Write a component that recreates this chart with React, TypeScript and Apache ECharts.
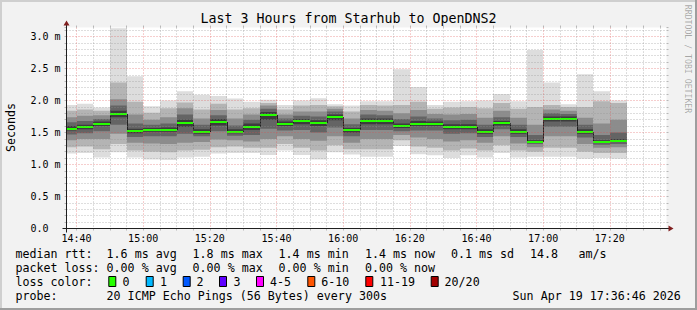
import React, { useEffect, useRef } from "react";
import * as echarts from "echarts";

// ---- data ----
const slotStart = ["14:35","14:40","14:45","14:50","14:55","15:00","15:05","15:10","15:15","15:20","15:25","15:30","15:35","15:40","15:45","15:50","15:55","16:00","16:05","16:10","16:15","16:20","16:25","16:30","16:35","16:40","16:45","16:50","16:55","17:00","17:05","17:10","17:15","17:20"];
const pingMin = [1.17,1.18,1.11,1.19,1.11,1.08,1.07,1.11,1.12,1.17,1.18,1.18,1.15,1.22,1.15,1.08,1.19,1.155,1.12,1.12,1.29,1.16,1.145,1.10,1.145,1.11,1.18,1.11,1.12,1.12,1.12,1.09,1.10,1.09];
const pingP3 = [1.27,1.28,1.24,1.32,1.22,1.20,1.19,1.22,1.23,1.27,1.28,1.26,1.26,1.32,1.26,1.22,1.30,1.24,1.24,1.24,1.38,1.28,1.26,1.22,1.25,1.22,1.30,1.22,1.20,1.26,1.26,1.20,1.18,1.18];
const pingP5 = [1.38,1.40,1.40,1.48,1.34,1.33,1.32,1.34,1.35,1.39,1.38,1.36,1.40,1.44,1.40,1.37,1.44,1.34,1.40,1.40,1.46,1.42,1.40,1.36,1.38,1.34,1.44,1.33,1.27,1.44,1.44,1.32,1.26,1.27];
const pingP7 = [1.47,1.49,1.52,1.62,1.43,1.44,1.44,1.48,1.44,1.52,1.45,1.46,1.56,1.53,1.54,1.50,1.58,1.44,1.54,1.54,1.52,1.53,1.53,1.48,1.49,1.43,1.55,1.43,1.32,1.59,1.59,1.42,1.31,1.32];
const pingP9 = [1.53,1.55,1.60,1.74,1.49,1.51,1.51,1.59,1.48,1.61,1.49,1.54,1.70,1.60,1.63,1.60,1.69,1.50,1.63,1.63,1.57,1.60,1.60,1.55,1.55,1.48,1.61,1.48,1.34,1.67,1.67,1.48,1.34,1.35];
const medianRtt = [1.56,1.58,1.64,1.79,1.52,1.54,1.54,1.65,1.51,1.665,1.51,1.59,1.77,1.635,1.675,1.645,1.74,1.535,1.68,1.68,1.60,1.635,1.635,1.59,1.59,1.51,1.645,1.51,1.355,1.71,1.71,1.51,1.35,1.37];
const pingP12 = [1.60,1.62,1.67,1.84,1.56,1.57,1.58,1.70,1.55,1.71,1.55,1.64,1.82,1.67,1.71,1.69,1.78,1.57,1.72,1.72,1.64,1.68,1.67,1.63,1.63,1.55,1.68,1.55,1.38,1.75,1.75,1.55,1.38,1.40];
const pingP14 = [1.66,1.68,1.71,1.92,1.64,1.62,1.64,1.78,1.62,1.77,1.61,1.70,1.87,1.72,1.76,1.75,1.83,1.63,1.78,1.77,1.71,1.75,1.72,1.69,1.70,1.62,1.74,1.62,1.46,1.80,1.79,1.62,1.46,1.50];
const pingP16 = [1.74,1.76,1.77,2.02,1.78,1.70,1.74,1.88,1.72,1.85,1.72,1.78,1.92,1.78,1.83,1.83,1.87,1.72,1.85,1.84,1.80,1.85,1.79,1.78,1.79,1.73,1.84,1.73,1.62,1.86,1.84,1.73,1.64,1.70];
const pingP18 = [1.84,1.86,1.84,2.28,1.98,1.81,1.88,1.97,1.86,1.95,1.86,1.88,1.96,1.86,1.92,1.93,1.91,1.83,1.93,1.92,1.93,1.98,1.87,1.89,1.90,1.88,1.96,1.87,1.90,1.93,1.90,1.90,1.99,1.96];
const pingMax = [1.93,1.95,1.89,3.13,2.38,1.91,2.00,2.145,2.09,2.07,2.03,1.98,2.01,1.93,2.00,2.035,1.94,1.92,1.99,1.99,2.49,2.21,1.93,1.98,1.99,2.00,2.10,1.99,2.79,2.28,1.94,2.41,2.145,2.00];

const stepMinutes = 5;
const axisStart = "14:37";
const axisEnd = "17:37";
const xTickLabels = ["14:40","15:00","15:20","15:40","16:00","16:20","16:40","17:00","17:20"];
const yTickValues = [0, 0.5, 1.0, 1.5, 2.0, 2.5, 3.0];
const yMax = 3.14;

const titleText = "Last 3 Hours from Starhub to OpenDNS2";
const yAxisName = "Seconds";
const watermark = "RRDTOOL / TOBI OETIKER";
const medianStats = ["1.6 ms avg", "1.8 ms max", "1.4 ms min", "1.4 ms now", "0.1 ms sd", "14.8", "am/s"];
const lossStats = ["0.00 % avg", "0.00 % max", "0.00 % min", "0.00 % now"];
const lossLabels = ["0", "1", "2", "3", "4-5", "6-10", "11-19", "20/20"];
const lossColors = ["#26ff00", "#00b8ff", "#0059ff", "#5e00ff", "#ff00ff", "#ff5500", "#ff0000", "#a10000"];
const probeText = "20 ICMP Echo Pings (56 Bytes) every 300s";
const stampText = "Sun Apr 19 17:36:46 2026";

// ---- styling / layout ----
const FONT = '"DejaVu Sans Mono", "Liberation Mono", monospace';
const smokeGrays = ["#dddddd", "#b4b4b4", "#8c8c8c", "#646464", "#3c3c3c"];
const GRID_MINOR = "rgba(143,143,143,0.6)";
const GRID_MAJOR = "rgba(222,79,79,0.55)";
const AXIS_COLOR = "#1f1f1f";
const ARROW_COLOR = "#801f1f";
const G = { left: 66.5, top: 27.54, width: 600, height: 200.96 };

const toMin = (s: string) => {
  const [h, m] = s.split(":").map(Number);
  return h * 60 + m;
};
const pad = (n: number) => (n < 10 ? "0" + n : "" + n);

export default function App() {
  const ref = useRef<HTMLDivElement>(null);

  useEffect(() => {
    const el = ref.current;
    if (!el) return;
    const chart = echarts.init(el, null, { renderer: "svg" });

    const x0Min = toMin(axisStart);
    const x1Min = toMin(axisEnd);
    const minuteCats: string[] = [];
    for (let m = x0Min; m <= x1Min; m++) minuteCats.push(pad(Math.floor(m / 60)) + ":" + pad(m % 60));
    const isMajor = (i: number) => xTickLabels.indexOf(minuteCats[i]) >= 0;
    const isStep = (i: number) => toMin(minuteCats[i]) % stepMinutes === 0;

    const smokeData = slotStart.map((s, i) => [
      toMin(s), toMin(s) + stepMinutes,
      pingMin[i], pingP3[i], pingP5[i], pingP7[i], pingP9[i],
      medianRtt[i],
      pingP12[i], pingP14[i], pingP16[i], pingP18[i], pingMax[i],
    ]);

    const pairs = [[2, 12], [3, 11], [4, 10], [5, 9], [6, 8]];

    const renderItem = (params: any, api: any) => {
      const cs = params.coordSys;
      const i = params.dataIndex;
      const s = api.value(0), e = api.value(1);
      let xa = api.coord([s, 0])[0];
      let xb = api.coord([e, 0])[0];
      xa = Math.round(Math.max(cs.x, xa));
      xb = Math.round(Math.min(cs.x + cs.width, xb));
      const Y = (v: number) => api.coord([s, v])[1];
      const children: any[] = [];
      pairs.forEach(([lo, hi], k) => {
        const yt = Y(api.value(hi));
        const yb = Y(api.value(lo));
        children.push({
          type: "rect",
          shape: { x: xa, y: yt, width: xb - xa, height: yb - yt },
          style: { fill: smokeGrays[k] },
        });
      });
      const ym = Math.round(Y(api.value(7)));
      if (i > 0) {
        const yp = Math.round(Y(medianRtt[i - 1]));
        children.push({
          type: "line",
          shape: { x1: xa + 0.5, y1: Math.min(yp, ym), x2: xa + 0.5, y2: Math.max(yp, ym) },
          style: { stroke: "#202020", lineWidth: 1 },
        });
      }
      children.push({
        type: "rect",
        shape: { x: xa, y: ym - 1, width: xb - xa, height: 2 },
        style: { fill: lossColors[0] },
      });
      return { type: "group", children };
    };

    const txt = (text: string, x: number, y: number, size: number, extra: any = {}) => ({
      type: "text",
      x, y,
      z: 20,
      silent: true,
      ...extra,
      style: {
        text,
        fill: extra.fill || "#000",
        fontFamily: FONT,
        fontSize: size,
        align: extra.align || "left",
        verticalAlign: "middle",
      },
    });

    const LF = 11.65;
    const rowY = [253.7, 267.7, 281.7, 295.7];
    const medX = [106.6, 192.6, 278.6, 365, 451, 530, 578.6];
    const boxX = [108.3, 145.7, 182.7, 219, 256, 307.3, 365.3, 430.7];
    const lossTxtX = [122.6, 160, 196.6, 233.6, 270, 321.3, 380, 444.6];

    const graphics: any[] = [
      // 3D border
      { type: "rect", z: 1, silent: true, shape: { x: 0, y: 0, width: 697, height: 2 }, style: { fill: "#cfcfcf" } },
      { type: "rect", z: 1, silent: true, shape: { x: 0, y: 0, width: 2, height: 310 }, style: { fill: "#cfcfcf" } },
      { type: "rect", z: 1, silent: true, shape: { x: 0, y: 308, width: 697, height: 2 }, style: { fill: "#9e9e9e" } },
      { type: "rect", z: 1, silent: true, shape: { x: 695, y: 0, width: 2, height: 310 }, style: { fill: "#9e9e9e" } },
      // axis lines and arrows
      { type: "line", z: 15, silent: true, shape: { x1: G.left - 4, y1: 228.5, x2: G.left + G.width + 4, y2: 228.5 }, style: { stroke: AXIS_COLOR, lineWidth: 1 } },
      { type: "line", z: 15, silent: true, shape: { x1: G.left, y1: 232.5, x2: G.left, y2: 23.5 }, style: { stroke: AXIS_COLOR, lineWidth: 1 } },
      { type: "polygon", z: 16, silent: true, shape: { points: [[668.5, 225.5], [668.5, 231.5], [673.5, 228.5]] }, style: { fill: ARROW_COLOR } },
      { type: "polygon", z: 16, silent: true, shape: { points: [[63.5, 25.5], [69.5, 25.5], [66.5, 20.5]] }, style: { fill: ARROW_COLOR } },
      // title, unit, watermark
      txt(titleText, 348.5, 18.6, 13.3, { align: "center" }),
      txt(yAxisName, 10.5, 127.5, LF, { align: "center", rotation: Math.PI / 2 }),
      txt(watermark, 688.3, 59, 8.2, { align: "center", rotation: -Math.PI / 2, fill: "rgba(0,0,0,0.33)" }),
      // legend
      txt("median rtt:", 15.4, rowY[0], LF),
      ...medianStats.map((t, i) => txt(t, medX[i], rowY[0], LF)),
      txt("packet loss:", 15.4, rowY[1], LF),
      ...lossStats.map((t, i) => txt(t, medX[i], rowY[1], LF)),
      txt("loss color:", 15.4, rowY[2], LF),
      ...lossLabels.map((t, i) => txt(t, lossTxtX[i], rowY[2], LF)),
      ...lossColors.map((c, i) => ({
        type: "rect", z: 20, silent: true,
        shape: { x: boxX[i] + 0.5, y: 276.5, width: 7, height: 10 },
        style: { fill: c, stroke: "#000", lineWidth: 1 },
      })),
      txt("probe:", 15.4, rowY[3], LF),
      txt(probeText, 106.6, rowY[3], LF),
      txt(stampText, 512.6, rowY[3], LF),
    ];

    const yLabel = (v: number) => {
      const t = yTickValues.find((q) => Math.abs(q - v) < 1e-6);
      if (t === undefined) return "";
      return t === 0 ? "0.0" : t.toFixed(1) + " m";
    };

    const option: any = {
      animation: false,
      backgroundColor: "#f2f2f2",
      grid: {
        left: G.left, top: G.top, width: G.width, height: G.height,
        show: true, backgroundColor: "#ffffff", borderWidth: 0,
        containLabel: false, outerBoundsMode: "none",
      },
      xAxis: [
        { type: "value", min: x0Min, max: x1Min, show: false, position: "top" },
        {
          type: "category", data: minuteCats, boundaryGap: false, position: "bottom", z: 3,
          axisLine: { show: false },
          axisTick: { show: true, interval: (i: number) => isStep(i), length: 2, lineStyle: { color: GRID_MINOR } },
          axisLabel: {
            show: true, interval: (i: number) => isMajor(i), margin: 5,
            fontFamily: FONT, fontSize: 10, color: "#000",
          },
          splitLine: {
            show: true, interval: (i: number) => isStep(i),
            lineStyle: { color: [GRID_MAJOR, GRID_MINOR, GRID_MINOR, GRID_MINOR], type: [1, 2], width: 1 },
          },
        },
        {
          type: "category", data: minuteCats, boundaryGap: false, position: "top", z: 3,
          axisLine: { show: false },
          axisTick: { show: true, interval: (i: number) => isStep(i), length: 2, lineStyle: { color: GRID_MINOR } },
          axisLabel: { show: false },
          splitLine: { show: false },
        },
      ],
      yAxis: [
        {
          type: "value", min: 0, max: yMax, interval: 0.1, position: "left", z: 3,
          axisLine: { show: false },
          axisTick: { show: true, length: 2, lineStyle: { color: GRID_MINOR } },
          axisLabel: {
            show: true, margin: 36, align: "left", formatter: yLabel,
            fontFamily: FONT, fontSize: 10, color: "#000",
          },
          splitLine: {
            show: true, showMaxLine: false,
            lineStyle: { color: [GRID_MAJOR, GRID_MINOR, GRID_MINOR, GRID_MINOR, GRID_MINOR], type: [1, 2], width: 1 },
          },
        },
        {
          type: "value", min: 0, max: yMax, interval: 0.1, position: "right", z: 3,
          axisLine: { show: false },
          axisTick: { show: true, length: 2, lineStyle: { color: GRID_MINOR } },
          axisLabel: { show: false },
          splitLine: { show: false },
        },
      ],
      series: [
        {
          type: "custom",
          xAxisIndex: 0,
          yAxisIndex: 0,
          clip: true,
          silent: true,
          z: 2,
          renderItem,
          data: smokeData,
        },
      ],
      graphic: { elements: graphics },
    };

    chart.setOption(option);
    return () => chart.dispose();
  }, []);

  return (
    <div style={{ position: "fixed", left: 0, top: 0, width: 697, height: 310, margin: 0 }}>
      <div ref={ref} style={{ width: 697, height: 310 }} />
    </div>
  );
}
